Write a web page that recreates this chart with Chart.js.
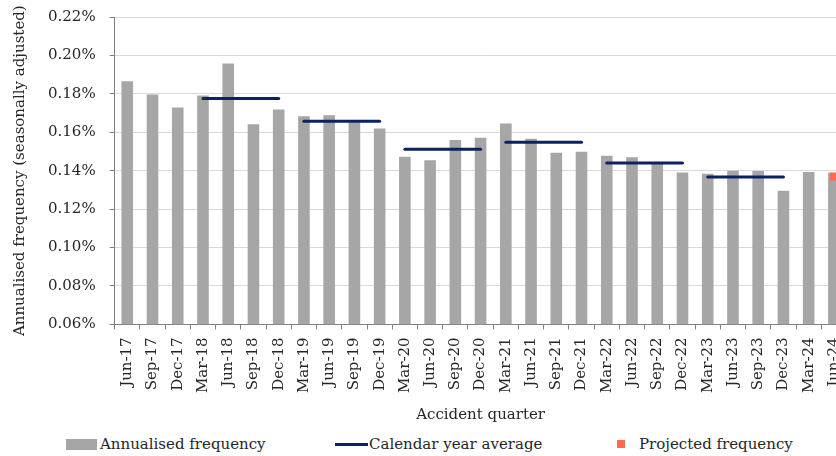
<!DOCTYPE html>
<html>
<head>
<meta charset="utf-8">
<script src="https://cdn.jsdelivr.net/npm/chart.js@4.4.1/dist/chart.umd.min.js"></script>
<style>
  html, body { margin: 0; padding: 0; background: #fff; overflow: hidden; }
  #wrap { position: relative; width: 836px; height: 456px; overflow: hidden; }
  #box { position: absolute; left: 0; top: 0; width: 860px; height: 424px; }
  #legend { position: absolute; left: 0; top: 434px; width: 836px; height: 20px;
            font: 15px 'DejaVu Serif', serif; color: #262626; }
  .item { position: absolute; top: 0; height: 20px; display: flex; align-items: center; white-space: nowrap; }
  .sw { display: inline-block; }
</style>
</head>
<body>
<div id="wrap">
  <div id="box"><canvas id="freqChart"></canvas></div>
  <div id="legend">
    <div class="item" style="left:66px"><span class="sw" style="width:31px;height:11px;background:#A6A6A6;margin-right:3px"></span>Annualised frequency</div>
    <div class="item" style="left:335px"><span class="sw" style="width:33px;height:3px;background:#0B2262;margin-right:1px"></span>Calendar year average</div>
    <div class="item" style="left:617px"><span class="sw" style="width:8px;height:8px;background:#FF6B50;margin-right:14px"></span>Projected frequency</div>
  </div>
</div>
<script>
// accident quarters
const quarters = [
    'Jun-17', 'Sep-17', 'Dec-17',
    'Mar-18', 'Jun-18', 'Sep-18', 'Dec-18',
    'Mar-19', 'Jun-19', 'Sep-19', 'Dec-19',
    'Mar-20', 'Jun-20', 'Sep-20', 'Dec-20',
    'Mar-21', 'Jun-21', 'Sep-21', 'Dec-21',
    'Mar-22', 'Jun-22', 'Sep-22', 'Dec-22',
    'Mar-23', 'Jun-23', 'Sep-23', 'Dec-23',
    'Mar-24', 'Jun-24'
];

// annualised frequency, in %
const frequency = [
    0.1865, 0.1797, 0.1729,
    0.1791, 0.1958, 0.1642, 0.1718,
    0.1683, 0.1689, 0.1652, 0.1619,
    0.1472, 0.1454, 0.1560, 0.1572,
    0.1645, 0.1566, 0.1494, 0.1499,
    0.1478, 0.1470, 0.1435, 0.1390,
    0.1384, 0.1400, 0.1399, 0.1296,
    0.1393, 0.1389
];

// calendar year averages
const avgYears = ['18', '19', '20', '21', '22', '23'];
const avgValues = [0.1776, 0.1657, 0.1511, 0.1548, 0.1440, 0.1367];

// projected point
const projectedQuarter = 'Jun-24';
const projectedValue = 0.1370;

const yTicks = [0.06, 0.08, 0.10, 0.12, 0.14, 0.16, 0.18, 0.20, 0.22];

const yearOf = i => quarters[i].split('-')[1];

const avgData = quarters.map(q => {
    const k = avgYears.indexOf(q.split('-')[1]);
    return k >= 0 ? avgValues[k] : null;
});
const projData = quarters.map(q => q === projectedQuarter ? projectedValue : null);

Chart.defaults.font.family = "'DejaVu Serif', serif";
Chart.defaults.font.size = 15;
Chart.defaults.color = '#262626';

const navy = '#0B2262';

new Chart(document.getElementById('freqChart').getContext('2d'), {
    type: 'bar',
    data: {
        labels: quarters,
        datasets: [
            {
                type: 'line',
                label: 'Projected frequency',
                data: projData,
                showLine: false,
                pointStyle: 'rect',
                pointRadius: 5.7,
                pointBackgroundColor: '#FF6B50',
                pointBorderWidth: 0,
                order: 1
            },
            {
                type: 'line',
                label: 'Calendar year average',
                data: avgData,
                borderColor: navy,
                borderWidth: 3,
                borderCapStyle: 'round',
                pointRadius: 0,
                spanGaps: false,
                segment: {
                    borderColor: c => yearOf(c.p0DataIndex) === yearOf(c.p1DataIndex) ? navy : 'transparent'
                },
                order: 2
            },
            {
                label: 'Annualised frequency',
                data: frequency,
                backgroundColor: '#A6A6A6',
                barPercentage: 0.46,
                categoryPercentage: 1,
                order: 3
            }
        ]
    },
    options: {
        responsive: true,
        maintainAspectRatio: false,
        animation: false,
        layout: { padding: { left: 11, top: 0, right: 0, bottom: 0 } },
        plugins: {
            legend: { display: false },
            tooltip: { enabled: false }
        },
        scales: {
            x: {
                grid: {
                    drawOnChartArea: false,
                    tickLength: 5,
                    tickColor: '#7F7F7F'
                },
                border: { color: '#7F7F7F' },
                ticks: {
                    maxRotation: 90,
                    minRotation: 90,
                    autoSkip: false,
                    padding: 8
                },
                title: {
                    display: true,
                    text: 'Accident quarter',
                    padding: { top: 5, bottom: 0 }
                }
            },
            y: {
                min: 0.06,
                max: 0.22,
                afterBuildTicks: axis => { axis.ticks = yTicks.map(v => ({ value: v })); },
                // tick padding would otherwise push the plot top down
                afterFit: axis => { axis.paddingTop = 17; },
                grid: {
                    color: '#D9D9D9',
                    tickLength: 5,
                    tickColor: '#7F7F7F'
                },
                border: { color: '#7F7F7F' },
                ticks: {
                    padding: 14,
                    callback: v => v.toFixed(2) + '%'
                },
                title: {
                    display: true,
                    text: 'Annualised frequency (seasonally adjusted)',
                    padding: { top: 0, bottom: 5 }
                }
            }
        }
    }
});
</script>
</body>
</html>
